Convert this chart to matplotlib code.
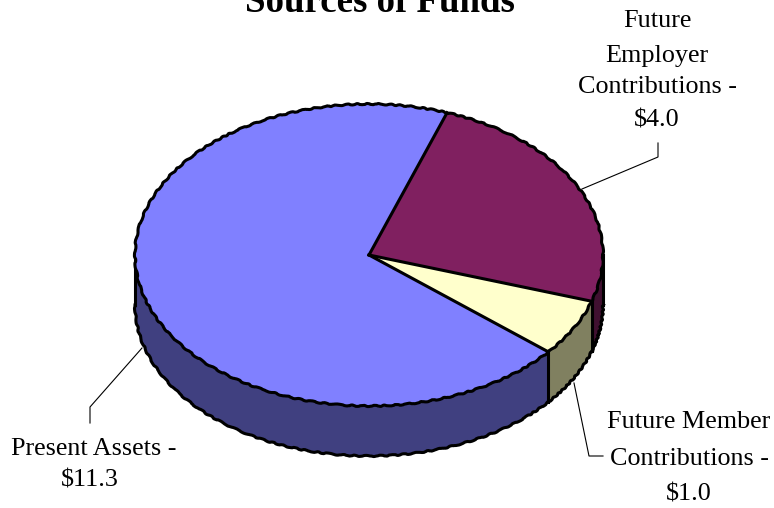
import numpy as np
import matplotlib
matplotlib.use("Agg")
import matplotlib.pyplot as plt
from matplotlib.patches import Polygon
from matplotlib.transforms import Affine2D

plt.rcParams['font.family'] = ['Liberation Serif', 'DejaVu Serif']

names = ["Present Assets", "Future Member Contributions", "Future Employer Contributions"]
values = [11.3, 1.0, 4.0]
top_colors = ["#8080FF", "#FFFFCC", "#802060"]
side_colors = ["#404080", "#808060", "#401030"]

# pie geometry in pixels
cx, cy = 369, 255
rx, ry = 234, 151
depth = 50
start = 70.5
jag = (0.6, 14, 3)
edge_w = 2.2


def ellipse_xy(deg):
    t = np.radians(deg)
    return cx + rx * np.cos(t), cy - ry * np.sin(t)


fig = plt.figure(figsize=(7.74, 5.08), dpi=100)
ax = fig.add_axes([0, 0, 1, 1])

wedges, _ = ax.pie(values, colors=top_colors, startangle=start, counterclock=True,
                   wedgeprops=dict(edgecolor="none", linewidth=0, zorder=3))
for w in wedges:
    w.set_transform(Affine2D().scale(rx, -ry).translate(cx, cy) + ax.transData)

sweeps = 360 * np.array(values) / sum(values)
bounds = start + np.r_[0, np.cumsum(sweeps)]

# front wall, one piece per slice, only the lower half of the ellipse shows
for a0, a1, col in zip(bounds[:-1], bounds[1:], side_colors):
    lo, hi = max(a0, 180), min(a1, 360)
    x, y = ellipse_xy(np.linspace(lo, hi, 120))
    ax.add_patch(Polygon(np.c_[np.r_[x, x[::-1]], np.r_[y, y[::-1] + depth]], closed=True,
                         facecolor=col, edgecolor="none", zorder=2))
    rim, = ax.plot(x, y + depth, color="black", lw=edge_w, zorder=2.5)
    rim.set_sketch_params(*jag)

# vertical wall edges: rim ends plus the slice boundaries on the front
for a in [180, 360] + [b for b in bounds % 360 if 180 < b < 360]:
    x, y = ellipse_xy(a)
    ax.plot([x, x], [y, y + depth], color="black", lw=edge_w, zorder=2.6)

# rim and spokes of the top face
x, y = ellipse_xy(np.linspace(0, 360, 400))
rim, = ax.plot(x, y, color="black", lw=edge_w, zorder=4)
rim.set_sketch_params(*jag)
for b in bounds[:-1]:
    x, y = ellipse_xy(b)
    ax.plot([cx, x], [cy, y], color="black", lw=edge_w, zorder=4)

ax.set_xlim(0, 774)
ax.set_ylim(508, 0)
ax.set_aspect("auto")
ax.axis("off")

# leader lines
ax.plot([658, 658, 582], [143, 157, 189], color="black", lw=0.8, zorder=1)
ax.plot([574, 589, 603], [383, 456, 456], color="black", lw=0.8, zorder=1)
ax.plot([142, 90, 90], [348, 407, 423], color="black", lw=0.8, zorder=1)

ax.text(380, 12, "Sources of Funds", fontsize=26.6, fontweight="bold", ha="center",
        va="baseline", clip_on=False)

label_size = 18.8
ax.text(657, 27, "Future", fontsize=label_size, ha="center", va="baseline")
ax.text(657, 62, "Employer", fontsize=label_size, ha="center", va="baseline")
ax.text(657, 93, "Contributions -", fontsize=label_size, ha="center", va="baseline")
ax.text(657, 127, f"${values[2]:.1f}", fontsize=label_size, ha="center", va="baseline",
        parse_math=False)
ax.text(688.5, 428, "Future Member", fontsize=label_size, ha="center", va="baseline")
ax.text(689, 465, "Contributions -", fontsize=label_size, ha="center", va="baseline")
ax.text(689, 500, f"${values[1]:.1f}", fontsize=label_size, ha="center", va="baseline",
        parse_math=False)
ax.text(93.5, 455, "Present Assets -", fontsize=label_size, ha="center", va="baseline")
ax.text(90, 486, f"${values[0]:.1f}", fontsize=label_size, ha="center", va="baseline",
        parse_math=False)

fig.savefig("out.png", dpi=100)
